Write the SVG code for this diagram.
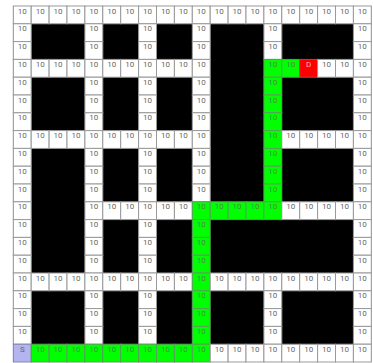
<svg xmlns="http://www.w3.org/2000/svg" width="373" height="363" viewBox="0 0 373 363">
<style>
rect{stroke-width:1}
.w{fill:#ffffff;stroke:#9a9a9a}
.g{fill:#00ff00;stroke:#5aa05a}
.r{fill:#ff0000;stroke:#a05050}
.s{fill:#b4b4f0;stroke:#8888b0}
text{font-family:Roboto,"Liberation Sans",sans-serif;font-size:8px;fill:#666;text-anchor:middle}
.tg{fill:#4a8a4a}
.td{fill:#ffb4b4}
</style>
<rect x="0" y="0" width="373" height="363" fill="#ffffff"/>
<rect x="13.3" y="6" width="358" height="356" fill="#000000"/>
<g id="cells">
<g id="r0c0"><rect class="w" x="13.3" y="6" width="17.9" height="17.8"/><text x="22.25" y="13.6">10</text></g>
<g id="r0c1"><rect class="w" x="31.2" y="6" width="17.9" height="17.8"/><text x="40.15" y="13.6">10</text></g>
<g id="r0c2"><rect class="w" x="49.1" y="6" width="17.9" height="17.8"/><text x="58.05" y="13.6">10</text></g>
<g id="r0c3"><rect class="w" x="67" y="6" width="17.9" height="17.8"/><text x="75.95" y="13.6">10</text></g>
<g id="r0c4"><rect class="w" x="84.9" y="6" width="17.9" height="17.8"/><text x="93.85" y="13.6">10</text></g>
<g id="r0c5"><rect class="w" x="102.8" y="6" width="17.9" height="17.8"/><text x="111.75" y="13.6">10</text></g>
<g id="r0c6"><rect class="w" x="120.7" y="6" width="17.9" height="17.8"/><text x="129.65" y="13.6">10</text></g>
<g id="r0c7"><rect class="w" x="138.6" y="6" width="17.9" height="17.8"/><text x="147.55" y="13.6">10</text></g>
<g id="r0c8"><rect class="w" x="156.5" y="6" width="17.9" height="17.8"/><text x="165.45" y="13.6">10</text></g>
<g id="r0c9"><rect class="w" x="174.4" y="6" width="17.9" height="17.8"/><text x="183.35" y="13.6">10</text></g>
<g id="r0c10"><rect class="w" x="192.3" y="6" width="17.9" height="17.8"/><text x="201.25" y="13.6">10</text></g>
<g id="r0c11"><rect class="w" x="210.2" y="6" width="17.9" height="17.8"/><text x="219.15" y="13.6">10</text></g>
<g id="r0c12"><rect class="w" x="228.1" y="6" width="17.9" height="17.8"/><text x="237.05" y="13.6">10</text></g>
<g id="r0c13"><rect class="w" x="246" y="6" width="17.9" height="17.8"/><text x="254.95" y="13.6">10</text></g>
<g id="r0c14"><rect class="w" x="263.9" y="6" width="17.9" height="17.8"/><text x="272.85" y="13.6">10</text></g>
<g id="r0c15"><rect class="w" x="281.8" y="6" width="17.9" height="17.8"/><text x="290.75" y="13.6">10</text></g>
<g id="r0c16"><rect class="w" x="299.7" y="6" width="17.9" height="17.8"/><text x="308.65" y="13.6">10</text></g>
<g id="r0c17"><rect class="w" x="317.6" y="6" width="17.9" height="17.8"/><text x="326.55" y="13.6">10</text></g>
<g id="r0c18"><rect class="w" x="335.5" y="6" width="17.9" height="17.8"/><text x="344.45" y="13.6">10</text></g>
<g id="r0c19"><rect class="w" x="353.4" y="6" width="17.9" height="17.8"/><text x="362.35" y="13.6">10</text></g>

<g id="r1c0"><rect class="w" x="13.3" y="23.8" width="17.9" height="17.8"/><text x="22.25" y="31.4">10</text></g>
<g id="r1c4"><rect class="w" x="84.9" y="23.8" width="17.9" height="17.8"/><text x="93.85" y="31.4">10</text></g>
<g id="r1c7"><rect class="w" x="138.6" y="23.8" width="17.9" height="17.8"/><text x="147.55" y="31.4">10</text></g>
<g id="r1c10"><rect class="w" x="192.3" y="23.8" width="17.9" height="17.8"/><text x="201.25" y="31.4">10</text></g>
<g id="r1c14"><rect class="w" x="263.9" y="23.8" width="17.9" height="17.8"/><text x="272.85" y="31.4">10</text></g>
<g id="r1c19"><rect class="w" x="353.4" y="23.8" width="17.9" height="17.8"/><text x="362.35" y="31.4">10</text></g>

<g id="r2c0"><rect class="w" x="13.3" y="41.6" width="17.9" height="17.8"/><text x="22.25" y="49.2">10</text></g>
<g id="r2c4"><rect class="w" x="84.9" y="41.6" width="17.9" height="17.8"/><text x="93.85" y="49.2">10</text></g>
<g id="r2c7"><rect class="w" x="138.6" y="41.6" width="17.9" height="17.8"/><text x="147.55" y="49.2">10</text></g>
<g id="r2c10"><rect class="w" x="192.3" y="41.6" width="17.9" height="17.8"/><text x="201.25" y="49.2">10</text></g>
<g id="r2c14"><rect class="w" x="263.9" y="41.6" width="17.9" height="17.8"/><text x="272.85" y="49.2">10</text></g>
<g id="r2c19"><rect class="w" x="353.4" y="41.6" width="17.9" height="17.8"/><text x="362.35" y="49.2">10</text></g>

<g id="r3c0"><rect class="w" x="13.3" y="59.4" width="17.9" height="17.8"/><text x="22.25" y="67">10</text></g>
<g id="r3c1"><rect class="w" x="31.2" y="59.4" width="17.9" height="17.8"/><text x="40.15" y="67">10</text></g>
<g id="r3c2"><rect class="w" x="49.1" y="59.4" width="17.9" height="17.8"/><text x="58.05" y="67">10</text></g>
<g id="r3c3"><rect class="w" x="67" y="59.4" width="17.9" height="17.8"/><text x="75.95" y="67">10</text></g>
<g id="r3c4"><rect class="w" x="84.9" y="59.4" width="17.9" height="17.8"/><text x="93.85" y="67">10</text></g>
<g id="r3c5"><rect class="w" x="102.8" y="59.4" width="17.9" height="17.8"/><text x="111.75" y="67">10</text></g>
<g id="r3c6"><rect class="w" x="120.7" y="59.4" width="17.9" height="17.8"/><text x="129.65" y="67">10</text></g>
<g id="r3c7"><rect class="w" x="138.6" y="59.4" width="17.9" height="17.8"/><text x="147.55" y="67">10</text></g>
<g id="r3c8"><rect class="w" x="156.5" y="59.4" width="17.9" height="17.8"/><text x="165.45" y="67">10</text></g>
<g id="r3c9"><rect class="w" x="174.4" y="59.4" width="17.9" height="17.8"/><text x="183.35" y="67">10</text></g>
<g id="r3c10"><rect class="w" x="192.3" y="59.4" width="17.9" height="17.8"/><text x="201.25" y="67">10</text></g>
<g id="r3c14"><rect class="g" x="263.9" y="59.4" width="17.9" height="17.8"/><text class="tg" x="272.85" y="67">10</text></g>
<g id="r3c15"><rect class="g" x="281.8" y="59.4" width="17.9" height="17.8"/><text class="tg" x="290.75" y="67">10</text></g>
<g id="r3c16"><rect class="r" x="299.7" y="59.4" width="17.9" height="17.8"/><text class="td" x="308.65" y="67">D</text></g>
<g id="r3c17"><rect class="w" x="317.6" y="59.4" width="17.9" height="17.8"/><text x="326.55" y="67">10</text></g>
<g id="r3c18"><rect class="w" x="335.5" y="59.4" width="17.9" height="17.8"/><text x="344.45" y="67">10</text></g>
<g id="r3c19"><rect class="w" x="353.4" y="59.4" width="17.9" height="17.8"/><text x="362.35" y="67">10</text></g>

<g id="r4c0"><rect class="w" x="13.3" y="77.2" width="17.9" height="17.8"/><text x="22.25" y="84.8">10</text></g>
<g id="r4c4"><rect class="w" x="84.9" y="77.2" width="17.9" height="17.8"/><text x="93.85" y="84.8">10</text></g>
<g id="r4c7"><rect class="w" x="138.6" y="77.2" width="17.9" height="17.8"/><text x="147.55" y="84.8">10</text></g>
<g id="r4c10"><rect class="w" x="192.3" y="77.2" width="17.9" height="17.8"/><text x="201.25" y="84.8">10</text></g>
<g id="r4c14"><rect class="g" x="263.9" y="77.2" width="17.9" height="17.8"/><text class="tg" x="272.85" y="84.8">10</text></g>
<g id="r4c19"><rect class="w" x="353.4" y="77.2" width="17.9" height="17.8"/><text x="362.35" y="84.8">10</text></g>

<g id="r5c0"><rect class="w" x="13.3" y="95" width="17.9" height="17.8"/><text x="22.25" y="102.6">10</text></g>
<g id="r5c4"><rect class="w" x="84.9" y="95" width="17.9" height="17.8"/><text x="93.85" y="102.6">10</text></g>
<g id="r5c7"><rect class="w" x="138.6" y="95" width="17.9" height="17.8"/><text x="147.55" y="102.6">10</text></g>
<g id="r5c10"><rect class="w" x="192.3" y="95" width="17.9" height="17.8"/><text x="201.25" y="102.6">10</text></g>
<g id="r5c14"><rect class="g" x="263.9" y="95" width="17.9" height="17.8"/><text class="tg" x="272.85" y="102.6">10</text></g>
<g id="r5c19"><rect class="w" x="353.4" y="95" width="17.9" height="17.8"/><text x="362.35" y="102.6">10</text></g>

<g id="r6c0"><rect class="w" x="13.3" y="112.8" width="17.9" height="17.8"/><text x="22.25" y="120.4">10</text></g>
<g id="r6c4"><rect class="w" x="84.9" y="112.8" width="17.9" height="17.8"/><text x="93.85" y="120.4">10</text></g>
<g id="r6c7"><rect class="w" x="138.6" y="112.8" width="17.9" height="17.8"/><text x="147.55" y="120.4">10</text></g>
<g id="r6c10"><rect class="w" x="192.3" y="112.8" width="17.9" height="17.8"/><text x="201.25" y="120.4">10</text></g>
<g id="r6c14"><rect class="g" x="263.9" y="112.8" width="17.9" height="17.8"/><text class="tg" x="272.85" y="120.4">10</text></g>
<g id="r6c19"><rect class="w" x="353.4" y="112.8" width="17.9" height="17.8"/><text x="362.35" y="120.4">10</text></g>

<g id="r7c0"><rect class="w" x="13.3" y="130.6" width="17.9" height="17.8"/><text x="22.25" y="138.2">10</text></g>
<g id="r7c1"><rect class="w" x="31.2" y="130.6" width="17.9" height="17.8"/><text x="40.15" y="138.2">10</text></g>
<g id="r7c2"><rect class="w" x="49.1" y="130.6" width="17.9" height="17.8"/><text x="58.05" y="138.2">10</text></g>
<g id="r7c3"><rect class="w" x="67" y="130.6" width="17.9" height="17.8"/><text x="75.95" y="138.2">10</text></g>
<g id="r7c4"><rect class="w" x="84.9" y="130.6" width="17.9" height="17.8"/><text x="93.85" y="138.2">10</text></g>
<g id="r7c5"><rect class="w" x="102.8" y="130.6" width="17.9" height="17.8"/><text x="111.75" y="138.2">10</text></g>
<g id="r7c6"><rect class="w" x="120.7" y="130.6" width="17.9" height="17.8"/><text x="129.65" y="138.2">10</text></g>
<g id="r7c7"><rect class="w" x="138.6" y="130.6" width="17.9" height="17.8"/><text x="147.55" y="138.2">10</text></g>
<g id="r7c8"><rect class="w" x="156.5" y="130.6" width="17.9" height="17.8"/><text x="165.45" y="138.2">10</text></g>
<g id="r7c9"><rect class="w" x="174.4" y="130.6" width="17.9" height="17.8"/><text x="183.35" y="138.2">10</text></g>
<g id="r7c10"><rect class="w" x="192.3" y="130.6" width="17.9" height="17.8"/><text x="201.25" y="138.2">10</text></g>
<g id="r7c14"><rect class="g" x="263.9" y="130.6" width="17.9" height="17.8"/><text class="tg" x="272.85" y="138.2">10</text></g>
<g id="r7c15"><rect class="w" x="281.8" y="130.6" width="17.9" height="17.8"/><text x="290.75" y="138.2">10</text></g>
<g id="r7c16"><rect class="w" x="299.7" y="130.6" width="17.9" height="17.8"/><text x="308.65" y="138.2">10</text></g>
<g id="r7c17"><rect class="w" x="317.6" y="130.6" width="17.9" height="17.8"/><text x="326.55" y="138.2">10</text></g>
<g id="r7c18"><rect class="w" x="335.5" y="130.6" width="17.9" height="17.8"/><text x="344.45" y="138.2">10</text></g>
<g id="r7c19"><rect class="w" x="353.4" y="130.6" width="17.9" height="17.8"/><text x="362.35" y="138.2">10</text></g>

<g id="r8c0"><rect class="w" x="13.3" y="148.4" width="17.9" height="17.8"/><text x="22.25" y="156">10</text></g>
<g id="r8c4"><rect class="w" x="84.9" y="148.4" width="17.9" height="17.8"/><text x="93.85" y="156">10</text></g>
<g id="r8c7"><rect class="w" x="138.6" y="148.4" width="17.9" height="17.8"/><text x="147.55" y="156">10</text></g>
<g id="r8c10"><rect class="w" x="192.3" y="148.4" width="17.9" height="17.8"/><text x="201.25" y="156">10</text></g>
<g id="r8c14"><rect class="g" x="263.9" y="148.4" width="17.9" height="17.8"/><text class="tg" x="272.85" y="156">10</text></g>
<g id="r8c19"><rect class="w" x="353.4" y="148.4" width="17.9" height="17.8"/><text x="362.35" y="156">10</text></g>

<g id="r9c0"><rect class="w" x="13.3" y="166.2" width="17.9" height="17.8"/><text x="22.25" y="173.8">10</text></g>
<g id="r9c4"><rect class="w" x="84.9" y="166.2" width="17.9" height="17.8"/><text x="93.85" y="173.8">10</text></g>
<g id="r9c7"><rect class="w" x="138.6" y="166.2" width="17.9" height="17.8"/><text x="147.55" y="173.8">10</text></g>
<g id="r9c10"><rect class="w" x="192.3" y="166.2" width="17.9" height="17.8"/><text x="201.25" y="173.8">10</text></g>
<g id="r9c14"><rect class="g" x="263.9" y="166.2" width="17.9" height="17.8"/><text class="tg" x="272.85" y="173.8">10</text></g>
<g id="r9c19"><rect class="w" x="353.4" y="166.2" width="17.9" height="17.8"/><text x="362.35" y="173.8">10</text></g>

<g id="r10c0"><rect class="w" x="13.3" y="184" width="17.9" height="17.8"/><text x="22.25" y="191.6">10</text></g>
<g id="r10c4"><rect class="w" x="84.9" y="184" width="17.9" height="17.8"/><text x="93.85" y="191.6">10</text></g>
<g id="r10c7"><rect class="w" x="138.6" y="184" width="17.9" height="17.8"/><text x="147.55" y="191.6">10</text></g>
<g id="r10c10"><rect class="w" x="192.3" y="184" width="17.9" height="17.8"/><text x="201.25" y="191.6">10</text></g>
<g id="r10c14"><rect class="g" x="263.9" y="184" width="17.9" height="17.8"/><text class="tg" x="272.85" y="191.6">10</text></g>
<g id="r10c19"><rect class="w" x="353.4" y="184" width="17.9" height="17.8"/><text x="362.35" y="191.6">10</text></g>

<g id="r11c0"><rect class="w" x="13.3" y="201.8" width="17.9" height="17.8"/><text x="22.25" y="209.4">10</text></g>
<g id="r11c4"><rect class="w" x="84.9" y="201.8" width="17.9" height="17.8"/><text x="93.85" y="209.4">10</text></g>
<g id="r11c5"><rect class="w" x="102.8" y="201.8" width="17.9" height="17.8"/><text x="111.75" y="209.4">10</text></g>
<g id="r11c6"><rect class="w" x="120.7" y="201.8" width="17.9" height="17.8"/><text x="129.65" y="209.4">10</text></g>
<g id="r11c7"><rect class="w" x="138.6" y="201.8" width="17.9" height="17.8"/><text x="147.55" y="209.4">10</text></g>
<g id="r11c8"><rect class="w" x="156.5" y="201.8" width="17.9" height="17.8"/><text x="165.45" y="209.4">10</text></g>
<g id="r11c9"><rect class="w" x="174.4" y="201.8" width="17.9" height="17.8"/><text x="183.35" y="209.4">10</text></g>
<g id="r11c10"><rect class="g" x="192.3" y="201.8" width="17.9" height="17.8"/><text class="tg" x="201.25" y="209.4">10</text></g>
<g id="r11c11"><rect class="g" x="210.2" y="201.8" width="17.9" height="17.8"/><text class="tg" x="219.15" y="209.4">10</text></g>
<g id="r11c12"><rect class="g" x="228.1" y="201.8" width="17.9" height="17.8"/><text class="tg" x="237.05" y="209.4">10</text></g>
<g id="r11c13"><rect class="g" x="246" y="201.8" width="17.9" height="17.8"/><text class="tg" x="254.95" y="209.4">10</text></g>
<g id="r11c14"><rect class="g" x="263.9" y="201.8" width="17.9" height="17.8"/><text class="tg" x="272.85" y="209.4">10</text></g>
<g id="r11c15"><rect class="w" x="281.8" y="201.8" width="17.9" height="17.8"/><text x="290.75" y="209.4">10</text></g>
<g id="r11c16"><rect class="w" x="299.7" y="201.8" width="17.9" height="17.8"/><text x="308.65" y="209.4">10</text></g>
<g id="r11c17"><rect class="w" x="317.6" y="201.8" width="17.9" height="17.8"/><text x="326.55" y="209.4">10</text></g>
<g id="r11c18"><rect class="w" x="335.5" y="201.8" width="17.9" height="17.8"/><text x="344.45" y="209.4">10</text></g>
<g id="r11c19"><rect class="w" x="353.4" y="201.8" width="17.9" height="17.8"/><text x="362.35" y="209.4">10</text></g>

<g id="r12c0"><rect class="w" x="13.3" y="219.6" width="17.9" height="17.8"/><text x="22.25" y="227.2">10</text></g>
<g id="r12c4"><rect class="w" x="84.9" y="219.6" width="17.9" height="17.8"/><text x="93.85" y="227.2">10</text></g>
<g id="r12c7"><rect class="w" x="138.6" y="219.6" width="17.9" height="17.8"/><text x="147.55" y="227.2">10</text></g>
<g id="r12c10"><rect class="g" x="192.3" y="219.6" width="17.9" height="17.8"/><text class="tg" x="201.25" y="227.2">10</text></g>
<g id="r12c19"><rect class="w" x="353.4" y="219.6" width="17.9" height="17.8"/><text x="362.35" y="227.2">10</text></g>

<g id="r13c0"><rect class="w" x="13.3" y="237.4" width="17.9" height="17.8"/><text x="22.25" y="245">10</text></g>
<g id="r13c4"><rect class="w" x="84.9" y="237.4" width="17.9" height="17.8"/><text x="93.85" y="245">10</text></g>
<g id="r13c7"><rect class="w" x="138.6" y="237.4" width="17.9" height="17.8"/><text x="147.55" y="245">10</text></g>
<g id="r13c10"><rect class="g" x="192.3" y="237.4" width="17.9" height="17.8"/><text class="tg" x="201.25" y="245">10</text></g>
<g id="r13c19"><rect class="w" x="353.4" y="237.4" width="17.9" height="17.8"/><text x="362.35" y="245">10</text></g>

<g id="r14c0"><rect class="w" x="13.3" y="255.2" width="17.9" height="17.8"/><text x="22.25" y="262.8">10</text></g>
<g id="r14c4"><rect class="w" x="84.9" y="255.2" width="17.9" height="17.8"/><text x="93.85" y="262.8">10</text></g>
<g id="r14c7"><rect class="w" x="138.6" y="255.2" width="17.9" height="17.8"/><text x="147.55" y="262.8">10</text></g>
<g id="r14c10"><rect class="g" x="192.3" y="255.2" width="17.9" height="17.8"/><text class="tg" x="201.25" y="262.8">10</text></g>
<g id="r14c19"><rect class="w" x="353.4" y="255.2" width="17.9" height="17.8"/><text x="362.35" y="262.8">10</text></g>

<g id="r15c0"><rect class="w" x="13.3" y="273" width="17.9" height="17.8"/><text x="22.25" y="280.6">10</text></g>
<g id="r15c1"><rect class="w" x="31.2" y="273" width="17.9" height="17.8"/><text x="40.15" y="280.6">10</text></g>
<g id="r15c2"><rect class="w" x="49.1" y="273" width="17.9" height="17.8"/><text x="58.05" y="280.6">10</text></g>
<g id="r15c3"><rect class="w" x="67" y="273" width="17.9" height="17.8"/><text x="75.95" y="280.6">10</text></g>
<g id="r15c4"><rect class="w" x="84.9" y="273" width="17.9" height="17.8"/><text x="93.85" y="280.6">10</text></g>
<g id="r15c5"><rect class="w" x="102.8" y="273" width="17.9" height="17.8"/><text x="111.75" y="280.6">10</text></g>
<g id="r15c6"><rect class="w" x="120.7" y="273" width="17.9" height="17.8"/><text x="129.65" y="280.6">10</text></g>
<g id="r15c7"><rect class="w" x="138.6" y="273" width="17.9" height="17.8"/><text x="147.55" y="280.6">10</text></g>
<g id="r15c8"><rect class="w" x="156.5" y="273" width="17.9" height="17.8"/><text x="165.45" y="280.6">10</text></g>
<g id="r15c9"><rect class="w" x="174.4" y="273" width="17.9" height="17.8"/><text x="183.35" y="280.6">10</text></g>
<g id="r15c10"><rect class="g" x="192.3" y="273" width="17.9" height="17.8"/><text class="tg" x="201.25" y="280.6">10</text></g>
<g id="r15c11"><rect class="w" x="210.2" y="273" width="17.9" height="17.8"/><text x="219.15" y="280.6">10</text></g>
<g id="r15c12"><rect class="w" x="228.1" y="273" width="17.9" height="17.8"/><text x="237.05" y="280.6">10</text></g>
<g id="r15c13"><rect class="w" x="246" y="273" width="17.9" height="17.8"/><text x="254.95" y="280.6">10</text></g>
<g id="r15c14"><rect class="w" x="263.9" y="273" width="17.9" height="17.8"/><text x="272.85" y="280.6">10</text></g>
<g id="r15c15"><rect class="w" x="281.8" y="273" width="17.9" height="17.8"/><text x="290.75" y="280.6">10</text></g>
<g id="r15c16"><rect class="w" x="299.7" y="273" width="17.9" height="17.8"/><text x="308.65" y="280.6">10</text></g>
<g id="r15c17"><rect class="w" x="317.6" y="273" width="17.9" height="17.8"/><text x="326.55" y="280.6">10</text></g>
<g id="r15c18"><rect class="w" x="335.5" y="273" width="17.9" height="17.8"/><text x="344.45" y="280.6">10</text></g>
<g id="r15c19"><rect class="w" x="353.4" y="273" width="17.9" height="17.8"/><text x="362.35" y="280.6">10</text></g>

<g id="r16c0"><rect class="w" x="13.3" y="290.8" width="17.9" height="17.8"/><text x="22.25" y="298.4">10</text></g>
<g id="r16c4"><rect class="w" x="84.9" y="290.8" width="17.9" height="17.8"/><text x="93.85" y="298.4">10</text></g>
<g id="r16c7"><rect class="w" x="138.6" y="290.8" width="17.9" height="17.8"/><text x="147.55" y="298.4">10</text></g>
<g id="r16c10"><rect class="g" x="192.3" y="290.8" width="17.9" height="17.8"/><text class="tg" x="201.25" y="298.4">10</text></g>
<g id="r16c14"><rect class="w" x="263.9" y="290.8" width="17.9" height="17.8"/><text x="272.85" y="298.4">10</text></g>
<g id="r16c19"><rect class="w" x="353.4" y="290.8" width="17.9" height="17.8"/><text x="362.35" y="298.4">10</text></g>

<g id="r17c0"><rect class="w" x="13.3" y="308.6" width="17.9" height="17.8"/><text x="22.25" y="316.2">10</text></g>
<g id="r17c4"><rect class="w" x="84.9" y="308.6" width="17.9" height="17.8"/><text x="93.85" y="316.2">10</text></g>
<g id="r17c7"><rect class="w" x="138.6" y="308.6" width="17.9" height="17.8"/><text x="147.55" y="316.2">10</text></g>
<g id="r17c10"><rect class="g" x="192.3" y="308.6" width="17.9" height="17.8"/><text class="tg" x="201.25" y="316.2">10</text></g>
<g id="r17c14"><rect class="w" x="263.9" y="308.6" width="17.9" height="17.8"/><text x="272.85" y="316.2">10</text></g>
<g id="r17c19"><rect class="w" x="353.4" y="308.6" width="17.9" height="17.8"/><text x="362.35" y="316.2">10</text></g>

<g id="r18c0"><rect class="w" x="13.3" y="326.4" width="17.9" height="17.8"/><text x="22.25" y="334">10</text></g>
<g id="r18c4"><rect class="w" x="84.9" y="326.4" width="17.9" height="17.8"/><text x="93.85" y="334">10</text></g>
<g id="r18c7"><rect class="w" x="138.6" y="326.4" width="17.9" height="17.8"/><text x="147.55" y="334">10</text></g>
<g id="r18c10"><rect class="g" x="192.3" y="326.4" width="17.9" height="17.8"/><text class="tg" x="201.25" y="334">10</text></g>
<g id="r18c14"><rect class="w" x="263.9" y="326.4" width="17.9" height="17.8"/><text x="272.85" y="334">10</text></g>
<g id="r18c19"><rect class="w" x="353.4" y="326.4" width="17.9" height="17.8"/><text x="362.35" y="334">10</text></g>

<g id="r19c0"><rect class="s" x="13.3" y="344.2" width="17.9" height="17.8"/><text x="22.25" y="351.8">S</text></g>
<g id="r19c1"><rect class="g" x="31.2" y="344.2" width="17.9" height="17.8"/><text class="tg" x="40.15" y="351.8">10</text></g>
<g id="r19c2"><rect class="g" x="49.1" y="344.2" width="17.9" height="17.8"/><text class="tg" x="58.05" y="351.8">10</text></g>
<g id="r19c3"><rect class="g" x="67" y="344.2" width="17.9" height="17.8"/><text class="tg" x="75.95" y="351.8">10</text></g>
<g id="r19c4"><rect class="g" x="84.9" y="344.2" width="17.9" height="17.8"/><text class="tg" x="93.85" y="351.8">10</text></g>
<g id="r19c5"><rect class="g" x="102.8" y="344.2" width="17.9" height="17.8"/><text class="tg" x="111.75" y="351.8">10</text></g>
<g id="r19c6"><rect class="g" x="120.7" y="344.2" width="17.9" height="17.8"/><text class="tg" x="129.65" y="351.8">10</text></g>
<g id="r19c7"><rect class="g" x="138.6" y="344.2" width="17.9" height="17.8"/><text class="tg" x="147.55" y="351.8">10</text></g>
<g id="r19c8"><rect class="g" x="156.5" y="344.2" width="17.9" height="17.8"/><text class="tg" x="165.45" y="351.8">10</text></g>
<g id="r19c9"><rect class="g" x="174.4" y="344.2" width="17.9" height="17.8"/><text class="tg" x="183.35" y="351.8">10</text></g>
<g id="r19c10"><rect class="g" x="192.3" y="344.2" width="17.9" height="17.8"/><text class="tg" x="201.25" y="351.8">10</text></g>
<g id="r19c11"><rect class="w" x="210.2" y="344.2" width="17.9" height="17.8"/><text x="219.15" y="351.8">10</text></g>
<g id="r19c12"><rect class="w" x="228.1" y="344.2" width="17.9" height="17.8"/><text x="237.05" y="351.8">10</text></g>
<g id="r19c13"><rect class="w" x="246" y="344.2" width="17.9" height="17.8"/><text x="254.95" y="351.8">10</text></g>
<g id="r19c14"><rect class="w" x="263.9" y="344.2" width="17.9" height="17.8"/><text x="272.85" y="351.8">10</text></g>
<g id="r19c15"><rect class="w" x="281.8" y="344.2" width="17.9" height="17.8"/><text x="290.75" y="351.8">10</text></g>
<g id="r19c16"><rect class="w" x="299.7" y="344.2" width="17.9" height="17.8"/><text x="308.65" y="351.8">10</text></g>
<g id="r19c17"><rect class="w" x="317.6" y="344.2" width="17.9" height="17.8"/><text x="326.55" y="351.8">10</text></g>
<g id="r19c18"><rect class="w" x="335.5" y="344.2" width="17.9" height="17.8"/><text x="344.45" y="351.8">10</text></g>
<g id="r19c19"><rect class="w" x="353.4" y="344.2" width="17.9" height="17.8"/><text x="362.35" y="351.8">10</text></g>
</g>
<g id="connectors"/>
</svg>
